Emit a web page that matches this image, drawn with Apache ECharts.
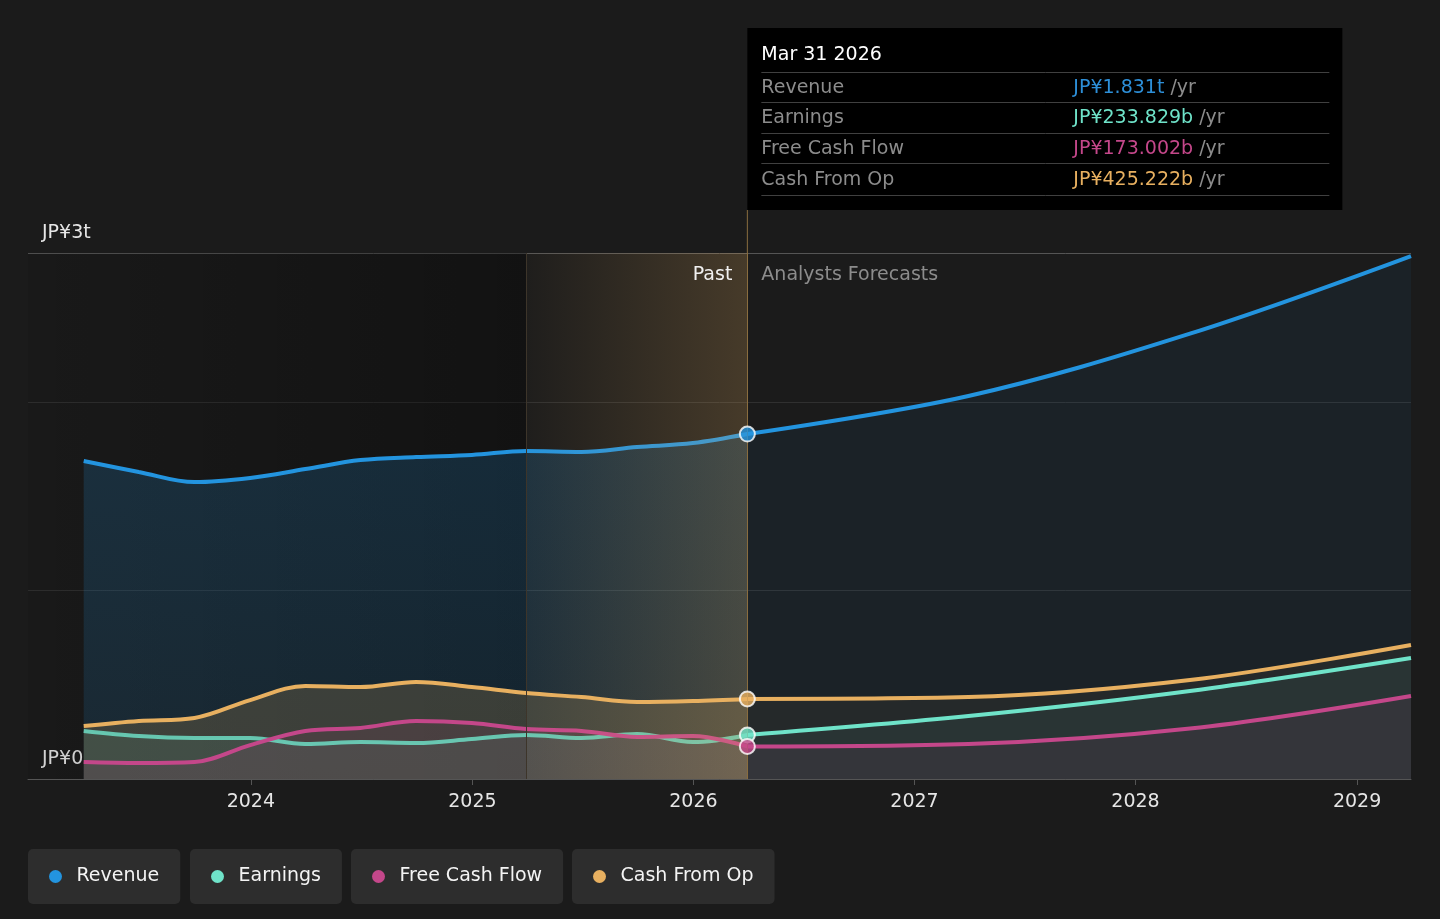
<!DOCTYPE html>
<html>
<head>
<meta charset="utf-8">
<script src="https://cdn.jsdelivr.net/npm/echarts@6/dist/echarts.min.js"></script>
<style>
  html, body { margin: 0; padding: 0; background: #1b1b1b; }
  #chart { width: 1440px; height: 919px; }
</style>
</head>
<body>
<div id="chart"></div>
<script>
// values in JP¥ billions
var pastDates = ['2023-03-31','2023-06-30','2023-09-30','2023-12-31','2024-03-31','2024-06-30','2024-09-30',
                 '2024-12-31','2025-03-31','2025-06-30','2025-09-30','2025-12-31','2026-03-31'];
var revenuePast  = [1688, 1630, 1576, 1598, 1645, 1693, 1709, 1720, 1741, 1736, 1762, 1783, 1831];
var earningsPast = [255, 228, 218, 218, 186, 196, 191, 212, 234, 218, 239, 196, 233.829];
var fcfPast      = [90, 85, 90, 180, 255, 271, 308, 297, 265, 255, 223, 228, 173.002];
var cfoPast      = [281, 308, 324, 419, 494, 488, 515, 488, 456, 435, 409, 414, 425.222];

var forecastDates = ['2026-03-31', '2027-03-31', '2028-03-31', '2029-03-31'];
var revenueFc  = [1831, 2033, 2364, 2776];
var earningsFc = [233.829, 334, 467, 642];
var fcfFc      = [173.002, 186, 268, 441];
var cfoFc      = [425.222, 435, 525, 711];

var yearTicks = ['2024-01-01','2025-01-01','2026-01-01','2027-01-01','2028-01-01','2029-01-01'];
var xMin = '2022-12-29';
var xMax = '2029-03-31';
var bandStart = '2025-03-31';
var yMax = 2792;

var C = { rev: '#2394df', earn: '#6fe3c9', fcf: '#c4478a', cfo: '#e8b060' };
var FONT = '"DejaVu Sans", sans-serif';

function ts(d) { return echarts.time.parse(d).getTime(); }
function pairs(d, v) { return d.map(function (x, i) { return [ts(x), v[i]]; }); }
function rgba(hex, a) {
  var n = parseInt(hex.slice(1), 16);
  return 'rgba(' + (n >> 16) + ',' + ((n >> 8) & 255) + ',' + (n & 255) + ',' + a + ')';
}
function vGrad(hex, a0, a1) {
  return new echarts.graphic.LinearGradient(0, 0, 0, 1, [
    { offset: 0, color: rgba(hex, a0) }, { offset: 1, color: rgba(hex, a1) }
  ]);
}

function lineSeries(name, dates, vals, color, area, extra) {
  var s = {
    name: name, type: 'line', data: pairs(dates, vals),
    smooth: 0.35, symbol: 'none', z: 2, silent: true,
    lineStyle: { color: color, width: 4 },
    itemStyle: { color: color },
    areaStyle: { color: area }
  };
  for (var k in extra) s[k] = extra[k];
  return s;
}

var chart = echarts.init(document.getElementById('chart'));

var option = {
  backgroundColor: '#1b1b1b',
  animation: false,
  textStyle: { fontFamily: FONT },
  grid: { left: 28, right: 29, top: 253, bottom: 140 },
  xAxis: {
    type: 'value', min: ts(xMin), max: ts(xMax),
    axisLine: { lineStyle: { color: '#555', width: 1 } },
    axisTick: { show: true, customValues: yearTicks.map(ts), length: 6, lineStyle: { color: '#555' } },
    axisLabel: {
      customValues: yearTicks.map(ts), color: '#e6e6e6', fontSize: 19, margin: 14,
      formatter: function (v) { return String(new Date(v).getFullYear()); }
    },
    splitLine: { show: false }
  },
  yAxis: {
    type: 'value', min: 0, max: yMax, interval: 1000,
    axisLine: { show: false }, axisTick: { show: false },
    splitLine: { lineStyle: { color: ['#555', '#303030', '#303030', '#555'], width: 1 } },
    axisLabel: {
      inside: true, margin: 14, color: '#e6e6e6', fontSize: 19,
      verticalAlign: 'bottom', padding: [0, 0, 10, 0],
      formatter: function (v) {
        if (v === 0) return 'JP¥0';
        if (v === yMax) return 'JP¥' + Math.round(v / 1000) + 't';
        return '';
      }
    }
  },
  legend: [
    { name: 'Revenue', left: 28 },
    { name: 'Earnings', left: 190 },
    { name: 'Free Cash Flow', left: 351 },
    { name: 'Cash From Op', left: 572 }
  ].map(function (l) {
    return {
      data: [l.name], left: l.left, top: 849, orient: 'horizontal',
      backgroundColor: '#2d2d2d', borderRadius: 5, padding: [18, 21, 18, 21],
      icon: 'circle', itemWidth: 32, itemHeight: 13, itemGap: 0,
      selectedMode: false,
      textStyle: { color: '#f4f4f4', fontSize: 19, lineHeight: 19, fontFamily: FONT }
    };
  }),
  series: [
    lineSeries('Revenue', pastDates, revenuePast, C.rev, vGrad(C.rev, 0.27, 0.19), {
      markArea: {
        silent: true,
        itemStyle: {
          color: new echarts.graphic.LinearGradient(0, 0, 1, 0, [
            { offset: 0, color: 'rgba(0,0,0,0.08)' },
            { offset: 1, color: 'rgba(0,0,0,0.33)' }
          ])
        },
        data: [[{ xAxis: ts(xMin) }, { xAxis: ts(bandStart) }]]
      }
    }),
    lineSeries('Cash From Op', pastDates, cfoPast, C.cfo, rgba(C.cfo, 0.26)),
    lineSeries('Earnings', pastDates, earningsPast, C.earn, rgba(C.earn, 0.12), {
      lineStyle: { color: C.earn, width: 4, opacity: 0.82 }
    }),
    lineSeries('Free Cash Flow', pastDates, fcfPast, C.fcf, rgba(C.fcf, 0.15)),

    lineSeries('Revenue', forecastDates, revenueFc, C.rev, rgba(C.rev, 0.09)),
    lineSeries('Cash From Op', forecastDates, cfoFc, C.cfo, rgba(C.cfo, 0.07)),
    lineSeries('Earnings', forecastDates, earningsFc, C.earn, rgba(C.earn, 0.09)),
    lineSeries('Free Cash Flow', forecastDates, fcfFc, C.fcf, rgba(C.fcf, 0.1)),

    {
      name: 'band', type: 'line', data: [], z: 5, silent: true,
      markArea: {
        silent: true, z: 5,
        itemStyle: {
          color: new echarts.graphic.LinearGradient(0, 0, 1, 0, [
            { offset: 0, color: 'rgba(232,176,96,0.02)' },
            { offset: 1, color: 'rgba(232,176,96,0.21)' }
          ])
        },
        data: [[{ xAxis: ts(bandStart) }, { xAxis: ts(forecastDates[0]) }]]
      },
      markLine: {
        silent: true, symbol: ['none', 'none'], label: { show: false },
        data: [
          { xAxis: ts(bandStart), lineStyle: { color: '#3d352a', width: 1, type: 'solid', opacity: 1 } },
          { xAxis: ts(forecastDates[0]), lineStyle: { color: '#8a6d3f', width: 1, type: 'solid', opacity: 1 } }
        ]
      }
    },
    {
      type: 'scatter', z: 10, silent: true, symbol: 'circle', symbolSize: 15,
      itemStyle: { borderColor: '#fff', borderWidth: 2 },
      data: [
        { value: [ts(forecastDates[0]), revenueFc[0]], itemStyle: { color: C.rev } },
        { value: [ts(forecastDates[0]), cfoFc[0]], itemStyle: { color: C.cfo } },
        { value: [ts(forecastDates[0]), earningsFc[0]], itemStyle: { color: C.earn } },
        { value: [ts(forecastDates[0]), fcfFc[0]], itemStyle: { color: C.fcf } }
      ]
    }
  ]
};

chart.setOption(option);

// divider position, tooltip box and region labels
var divX = chart.convertToPixel({ xAxisIndex: 0 }, ts(forecastDates[0]));
var topY = chart.convertToPixel({ yAxisIndex: 0 }, yMax);

var months = ['Jan','Feb','Mar','Apr','May','Jun','Jul','Aug','Sep','Oct','Nov','Dec'];
var d0 = echarts.time.parse(forecastDates[0]);
var tipTitle = months[d0.getMonth()] + ' ' + d0.getDate() + ' ' + d0.getFullYear();

var tipRows = [
  ['Revenue', 'JP¥' + (revenuePast[12] / 1000).toFixed(3) + 't', '#2d8fd8'],
  ['Earnings', 'JP¥' + earningsPast[12].toFixed(3) + 'b', C.earn],
  ['Free Cash Flow', 'JP¥' + fcfPast[12].toFixed(3) + 'b', C.fcf],
  ['Cash From Op', 'JP¥' + cfoPast[12].toFixed(3) + 'b', C.cfo]
];

var g = [
  { type: 'line', z: 50, silent: true,
    shape: { x1: divX, y1: 210, x2: divX, y2: topY },
    style: { stroke: '#8a6d3f', lineWidth: 1 } },
  { type: 'rect', z: 60, silent: true,
    shape: { x: divX, y: 28, width: 595, height: 182 },
    style: { fill: '#000' } },
  { type: 'text', z: 61, silent: true, x: divX + 14, y: 55,
    style: { text: tipTitle, fill: '#fff', fontSize: 19, fontFamily: FONT, verticalAlign: 'middle' } },
  { type: 'text', z: 30, silent: true, x: divX - 15, y: 275,
    style: { text: 'Past', fill: '#f0f0f0', fontSize: 19, fontFamily: FONT, align: 'right', verticalAlign: 'middle' } },
  { type: 'text', z: 30, silent: true, x: divX + 14, y: 275,
    style: { text: 'Analysts Forecasts', fill: '#8c8c8c', fontSize: 19, fontFamily: FONT, align: 'left', verticalAlign: 'middle' } }
];
var sepY = [72, 102, 133, 163, 195];
sepY.forEach(function (y) {
  g.push({ type: 'line', z: 61, silent: true,
    shape: { x1: divX + 14, y1: y + 0.5, x2: divX + 582, y2: y + 0.5 },
    style: { stroke: '#404040', lineWidth: 1 } });
});
tipRows.forEach(function (r, i) {
  var cy = (sepY[i] + sepY[i + 1]) / 2 + 1;
  g.push({ type: 'text', z: 61, silent: true, x: divX + 14, y: cy,
    style: { text: r[0], fill: '#8c8c8c', fontSize: 19, fontFamily: FONT, verticalAlign: 'middle' } });
  g.push({ type: 'text', z: 61, silent: true, x: divX + 326, y: cy,
    style: {
      text: '{v|' + r[1] + '} {u|/yr}', fontSize: 19, fontFamily: FONT, verticalAlign: 'middle',
      rich: {
        v: { fill: r[2], fontSize: 19, fontFamily: FONT },
        u: { fill: '#8c8c8c', fontSize: 19, fontFamily: FONT }
      }
    } });
});

chart.setOption({ graphic: g });
</script>
</body>
</html>
